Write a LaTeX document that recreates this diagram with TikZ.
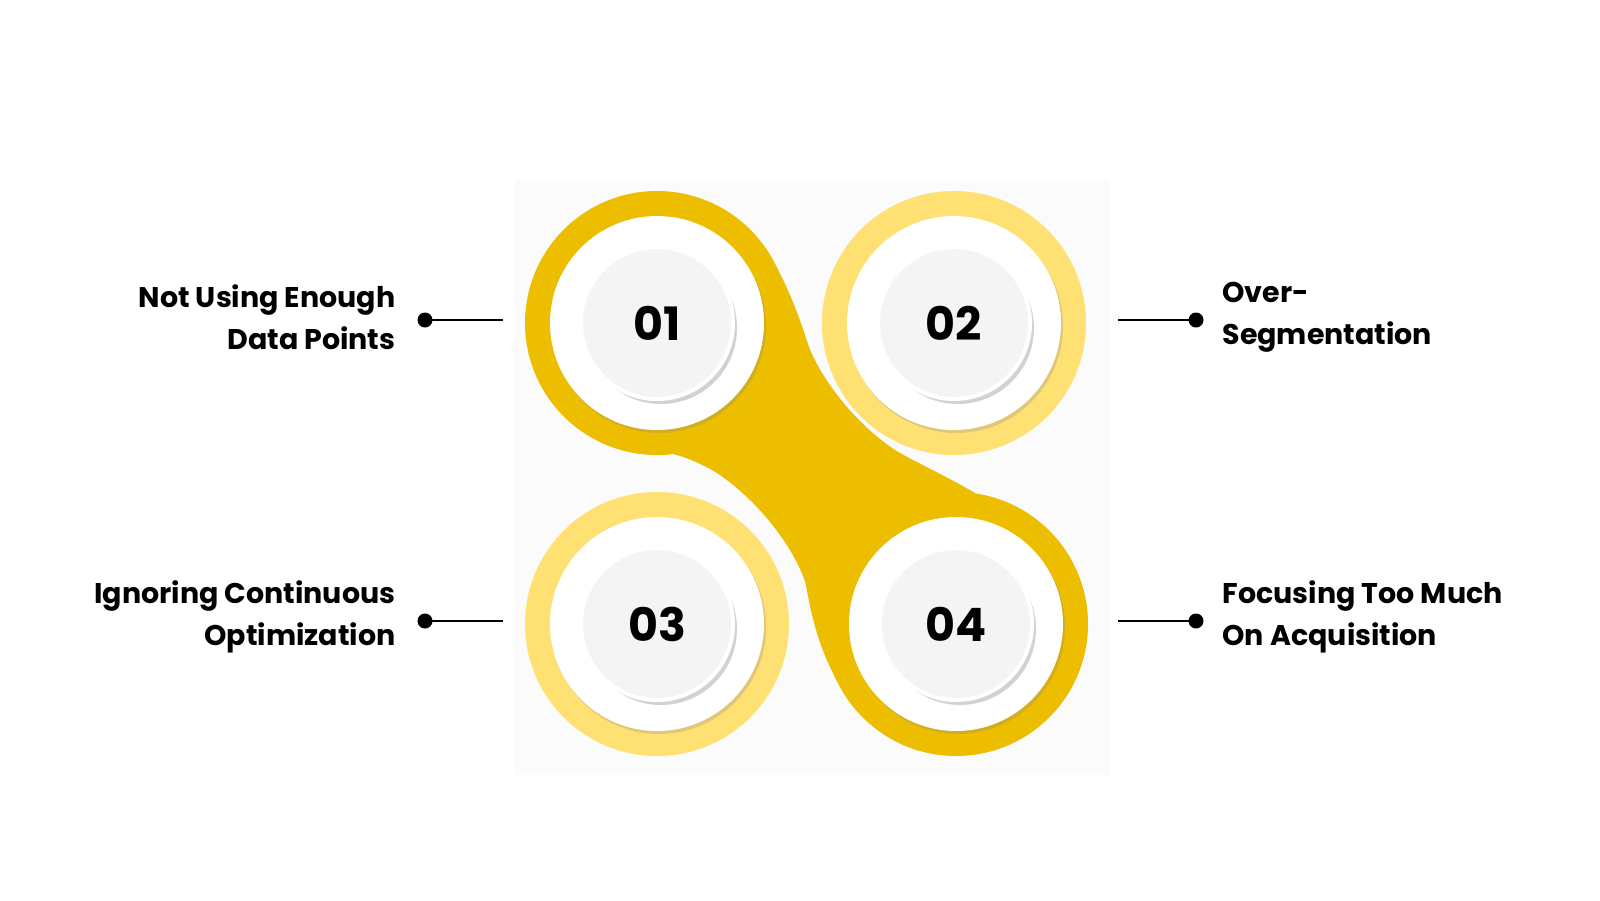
\documentclass[tikz,border=0pt]{standalone}
\usepackage{fontspec}
\setmainfont{Poppins}
\usetikzlibrary{shadows}
\definecolor{dk}{HTML}{EDBE00}
\definecolor{lt}{HTML}{FEE073}
\begin{document}
\begin{tikzpicture}[x=1pt,y=-1pt,
  lbl/.style={font=\fontsize{28.5}{42}\selectfont\bfseries, align=#1},
  num/.style={font=\fontsize{46}{46}\selectfont\bfseries},
  hole/.style={fill=white, circle, minimum size=214pt, inner sep=0pt, drop shadow={shadow xshift=2pt, shadow yshift=-3pt, opacity=0.25}},
  disc/.style={fill=gray!9, draw=white, line width=4pt, circle, minimum size=152pt, inner sep=0pt, drop shadow={shadow xshift=4pt, shadow yshift=-5pt, opacity=0.35}},
  conn/.style={line width=2.2pt},
  dot/.style={circle, fill=black, minimum size=15pt, inner sep=0pt}]
\useasboundingbox (0,0) rectangle (1600,900);
\fill[white] (0,0) rectangle (1600,900);
\fill[gray!3] (515,180) rectangle (1110,775);
\coordinate (c1) at (657,323);
\coordinate (c2) at (954,323);
\coordinate (c3) at (657,624);
\coordinate (c4) at (956,624);
% dark band
\fill[dk] (c1) circle (132);
\fill[dk] (c4) circle (132);
\fill[dk] (771,257) .. controls (790,290) and (800,320) .. (806,338)
  .. controls (815,370) and (850,420) .. (895,450)
  .. controls (915,462) and (950,478) .. (975,493) -- (c4)
  -- (842,690) .. controls (823,657) and (813,627) .. (806,585)
  .. controls (797,553) and (762,503) .. (717,473)
  .. controls (697,461) and (662,445) .. (638,454) -- (c1) -- cycle;
% light circles
\fill[lt] (c2) circle (132);
\fill[lt] (c3) circle (132);
% holes and discs
\node[hole] (h1) at (c1) {};
\node[hole] (h2) at (c2) {};
\node[hole] (h3) at (c3) {};
\node[hole] (h4) at (c4) {};
\node[disc, num] (n1) at (c1) {01};
\node[disc, num] (n2) at (c2) {02};
\node[disc, num] (n3) at (c3) {03};
\node[disc, num] (n4) at (c4) {04};
% connectors
\node[dot] (d1) at (425,320) {};
\coordinate (e1) at (503,320);
\draw[conn] (d1.center) -- (e1);
\node[dot] (d2) at (1196,320) {};
\coordinate (e2) at (1118,320);
\draw[conn] (d2.center) -- (e2);
\node[dot] (d3) at (425,621) {};
\coordinate (e3) at (503,621);
\draw[conn] (d3.center) -- (e3);
\node[dot] (d4) at (1196,621) {};
\coordinate (e4) at (1118,621);
\draw[conn] (d4.center) -- (e4);
% labels
\node[lbl=right, anchor=east] (t1) at (399,317) {Not Using Enough\\Data Points};
\node[lbl=left, anchor=west] (t2) at (1219,317) {Over-\\Segmentation};
\node[lbl=right, anchor=east] (t3) at (399,617) {Ignoring Continuous\\Optimization};
\node[lbl=left, anchor=west] (t4) at (1219,617) {Focusing Too Much\\On Acquisition};
\end{tikzpicture}
\end{document}
